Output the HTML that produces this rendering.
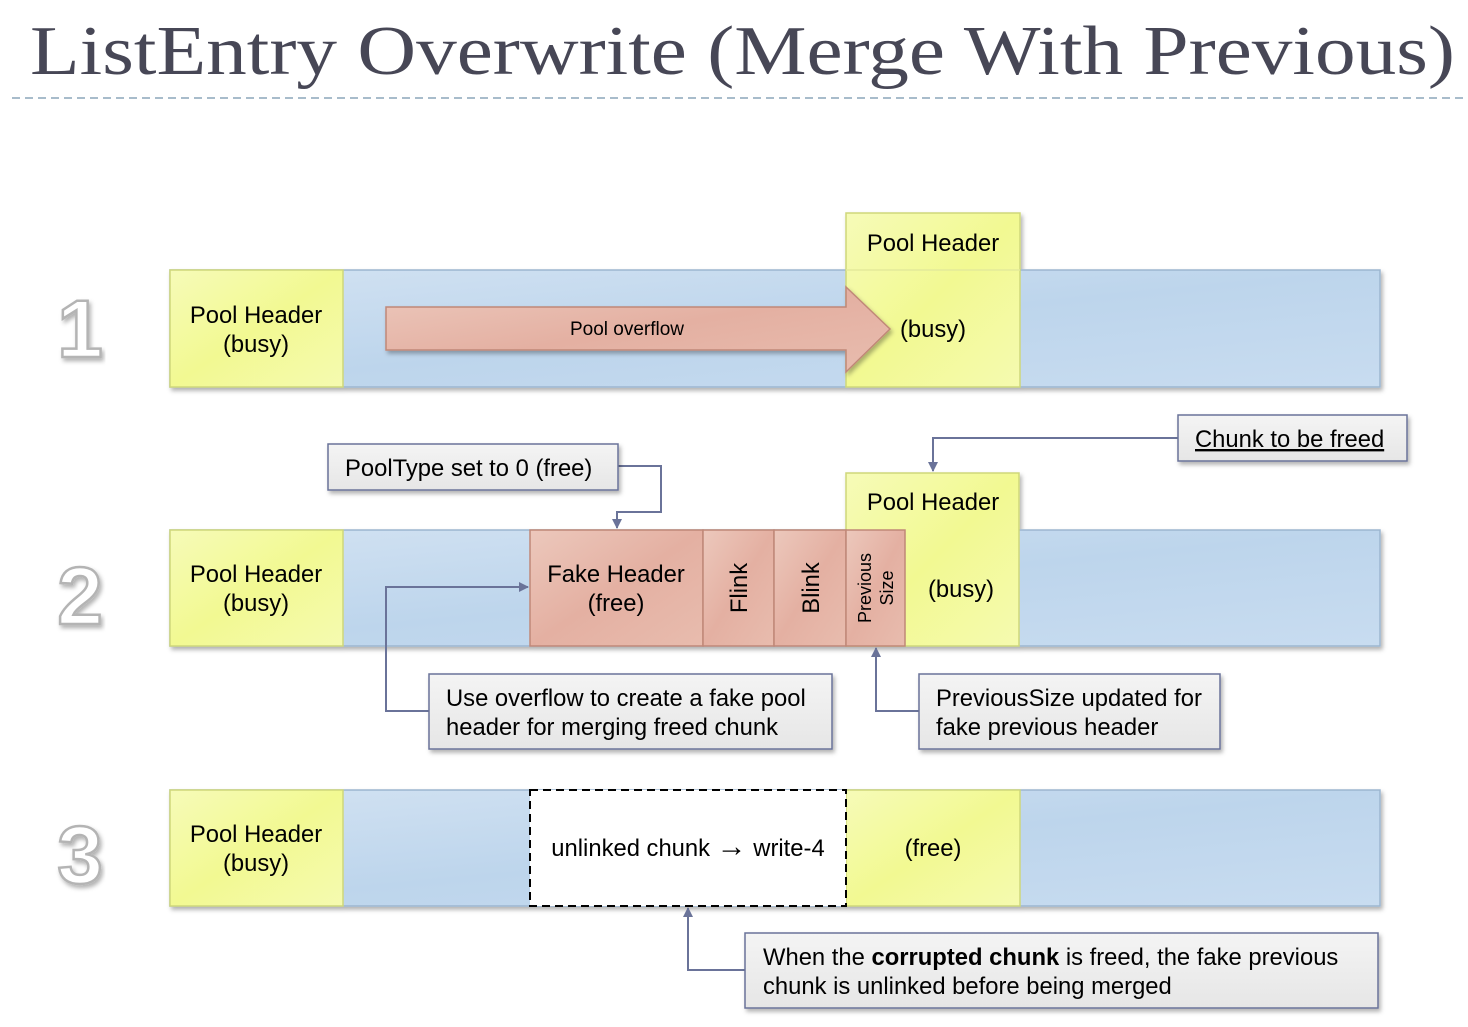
<!DOCTYPE html>
<html><head><meta charset="utf-8"><style>
html,body{margin:0;padding:0;background:#fff;}
svg{display:block;}
text{font-family:"Liberation Sans",sans-serif;}
</style></head><body>
<svg width="1468" height="1027" viewBox="0 0 1468 1027" xmlns="http://www.w3.org/2000/svg">
<defs>
<linearGradient id="bl" x1="0" y1="0" x2="1" y2="1"><stop offset="0" stop-color="#d2e2f2"/><stop offset="0.5" stop-color="#bdd5ec"/><stop offset="1" stop-color="#c8dcf0"/></linearGradient>
<linearGradient id="ye" x1="0" y1="0" x2="1" y2="1"><stop offset="0" stop-color="#f6fbb8"/><stop offset="0.5" stop-color="#f2f992"/><stop offset="1" stop-color="#f5fab0"/></linearGradient>
<linearGradient id="rd" x1="0" y1="0" x2="1" y2="1"><stop offset="0" stop-color="#ecc8bc"/><stop offset="0.5" stop-color="#e4b0a2"/><stop offset="1" stop-color="#e8bcae"/></linearGradient>
<linearGradient id="gr" x1="0" y1="0" x2="0" y2="1"><stop offset="0" stop-color="#f4f4f4"/><stop offset="1" stop-color="#e6e6e6"/></linearGradient>
<filter id="sh" x="-5%" y="-10%" width="110%" height="130%"><feDropShadow dx="2" dy="3" stdDeviation="2" flood-color="#000" flood-opacity="0.3"/></filter>
<marker id="ar" markerWidth="10" markerHeight="10" refX="9" refY="5" orient="auto" markerUnits="userSpaceOnUse"><path d="M0,0 L10,5 L0,10 z" fill="#6a7399"/></marker>
</defs>

<text x="30" y="74" font-family="Liberation Serif" font-size="70" fill="#474756" style="font-family:'Liberation Serif',serif" textLength="1425" lengthAdjust="spacingAndGlyphs">ListEntry Overwrite (Merge With Previous)</text>
<line x1="12" y1="98" x2="1468" y2="98" stroke="#a8bccb" stroke-width="2" stroke-dasharray="8,5"/>

<g font-size="82" font-weight="bold" fill="#fff" stroke="#b4b4b4" stroke-width="2.5" text-anchor="middle" filter="url(#sh)">
<text x="80" y="357">1</text><text x="80" y="624">2</text><text x="80" y="883">3</text>
</g>

<!-- Row 1 -->
<g filter="url(#sh)">
<rect x="170" y="270" width="1210" height="117" fill="url(#bl)" stroke="#9cb6d0" stroke-width="1.5"/>
<rect x="170" y="270" width="173" height="117" fill="url(#ye)" stroke="#cfd77a" stroke-width="1.5"/>
<rect x="846" y="213" width="174" height="174" fill="url(#ye)" stroke="#cfd77a" stroke-width="1.5"/>
</g>
<line x1="846" y1="270" x2="1020" y2="270" stroke="#e3ea9a" stroke-width="1.5"/>
<path d="M386,307 L846,307 L846,287 L890,329 L846,372 L846,350 L386,350 Z" fill="url(#rd)" stroke="#c08878" stroke-width="1.5" filter="url(#sh)"/>
<g font-size="23.8" fill="#000" text-anchor="middle">
<text x="256" y="323">Pool Header</text><text x="256" y="352">(busy)</text>
<text x="933" y="251">Pool Header</text><text x="933" y="337">(busy)</text>
</g>
<text x="627" y="335" font-size="19" text-anchor="middle">Pool overflow</text>

<!-- Row 2 -->
<g filter="url(#sh)">
<rect x="170" y="530" width="1210" height="116" fill="url(#bl)" stroke="#9cb6d0" stroke-width="1.5"/>
<rect x="170" y="530" width="173" height="116" fill="url(#ye)" stroke="#cfd77a" stroke-width="1.5"/>
<rect x="846" y="473" width="173" height="173" fill="url(#ye)" stroke="#cfd77a" stroke-width="1.5"/>
<rect x="530" y="530" width="173" height="116" fill="url(#rd)" stroke="#c08878" stroke-width="1.5"/>
<rect x="703" y="530" width="71" height="116" fill="url(#rd)" stroke="#c08878" stroke-width="1.5"/>
<rect x="774" y="530" width="72" height="116" fill="url(#rd)" stroke="#c08878" stroke-width="1.5"/>
<rect x="846" y="530" width="59" height="116" fill="url(#rd)" stroke="#c08878" stroke-width="1.5"/>
</g>
<g font-size="23.8" fill="#000" text-anchor="middle">
<text x="256" y="582">Pool Header</text><text x="256" y="611">(busy)</text>
<text x="933" y="510">Pool Header</text><text x="961" y="597">(busy)</text>
<text x="616" y="582">Fake Header</text><text x="616" y="611">(free)</text>
<text transform="translate(747,588) rotate(-90)">Flink</text>
<text transform="translate(819,588) rotate(-90)">Blink</text>
<text font-size="18" transform="translate(871,588) rotate(-90)">Previous</text>
<text font-size="18" transform="translate(893,588) rotate(-90)">Size</text>
</g>

<!-- Row 3 -->
<g filter="url(#sh)">
<rect x="170" y="790" width="1210" height="116" fill="url(#bl)" stroke="#9cb6d0" stroke-width="1.5"/>
<rect x="170" y="790" width="173" height="116" fill="url(#ye)" stroke="#cfd77a" stroke-width="1.5"/>
<rect x="846" y="790" width="174" height="116" fill="url(#ye)" stroke="#cfd77a" stroke-width="1.5"/>
</g>
<rect x="530" y="790" width="316" height="116" fill="#fff" stroke="#000" stroke-width="2" stroke-dasharray="8,5"/>
<g font-size="23.8" fill="#000" text-anchor="middle">
<text x="256" y="842">Pool Header</text><text x="256" y="871">(busy)</text>
<text x="933" y="856">(free)</text>
<text x="688" y="856">unlinked chunk <tspan font-size="30" font-weight="bold">→</tspan> write-4</text>
</g>

<!-- Connectors -->
<g fill="none" stroke="#6a7399" stroke-width="2">
<path d="M618,466 L661,466 L661,512 L617,512 L617,528" marker-end="url(#ar)"/>
<path d="M1178,438 L933,438 L933,471" marker-end="url(#ar)"/>
<path d="M429,711 L386,711 L386,587 L528,587" marker-end="url(#ar)"/>
<path d="M919,711 L876,711 L876,648" marker-end="url(#ar)"/>
<path d="M745,970 L688,970 L688,908" marker-end="url(#ar)"/>
</g>

<!-- Callouts -->
<g filter="url(#sh)" fill="url(#gr)" stroke="#6a7399" stroke-width="1.5">
<rect x="328" y="444" width="290" height="46"/>
<rect x="1178" y="415" width="229" height="46"/>
<rect x="429" y="674" width="403" height="75"/>
<rect x="919" y="674" width="301" height="75"/>
<rect x="745" y="933" width="633" height="75"/>
</g>
<g font-size="23.8" fill="#000">
<text x="345" y="476">PoolType set to 0 (free)</text>
<text x="1195" y="447" text-decoration="underline">Chunk to be freed</text>
<text x="446" y="706">Use overflow to create a fake pool</text>
<text x="446" y="735">header for merging freed chunk</text>
<text x="936" y="706">PreviousSize updated for</text>
<text x="936" y="735">fake previous header</text>
<text x="763" y="965">When the <tspan font-weight="bold">corrupted chunk</tspan> is freed, the fake previous</text>
<text x="763" y="994">chunk is unlinked before being merged</text>
</g>
</svg>
</body></html>
